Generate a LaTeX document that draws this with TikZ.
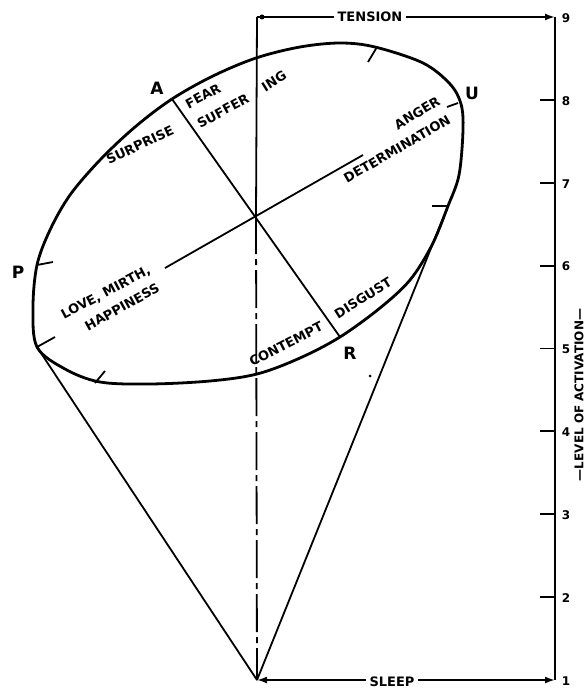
\documentclass[tikz,border=0pt]{standalone}
\usepackage{fontspec}
\setmainfont{DejaVu Sans}
\usetikzlibrary{arrows.meta}

\begin{document}
\begin{tikzpicture}[x=1pt,y=-1pt,>={Latex[length=10pt,width=7pt]},
  emo/.style={font=\bfseries\fontsize{13}{14}\selectfont, inner sep=0pt},
  pole/.style={font=\bfseries\fontsize{17}{18}\selectfont, inner sep=0pt},
  num/.style={font=\bfseries\fontsize{12}{13}\selectfont, inner sep=0pt},
  rim/.style={line width=2.8pt, line join=round},
  thin/.style={line width=1.8pt},
  tickmark/.style={line width=1.8pt}]
\useasboundingbox (0,0) rectangle (586,690);

% main points
\coordinate (top) at (257,17);
\coordinate (c) at (256,216);
\coordinate (apex) at (257,680);
\coordinate (aend) at (172,99);
\coordinate (rend) at (340,337);
\coordinate (pend) at (165,268);
\coordinate (uend) at (363,155);
\coordinate (lt) at (37,347);
\coordinate (rt) at (448,206);
\coordinate (t9) at (555,17);
\coordinate (t1) at (555,680);

% the ellipse
\draw[rim] plot[smooth cycle, tension=0.55] coordinates {
  (256,58) (300,47) (340,43) (375,47) (423,63) (450,84) (461,104)
  (463,130) (459,175) (448,206) (432,245) (410,280) (380,308) (340,337)
  (300,358) (257,374) (210,381) (150,384) (100,382) (65,369) (37,347)
  (33,307) (37,265) (50,230) (70,195) (100,160) (135,127) (172,99) (213,76)};

% axes of the ellipse
\draw[thin] (aend) -- (rend);
\draw[thin] (pend) -- (uend);
\draw[thin] (top) -- (c);
\draw[thin, dash pattern=on 38pt off 5pt on 6pt off 5pt] (c) -- (apex);

% cone
\draw[thin] (lt) -- (apex);
\draw[thin] (rt) -- (apex);

% marks on the rim
\draw[tickmark] (37,265) -- (53,262);
\draw[tickmark] (37,347) -- (55,337);
\draw[tickmark] (95,383) -- (105,371);
\draw[tickmark] (368,62) -- (377,47);
\draw[tickmark] (447,107) -- (458,103);
\draw[tickmark] (432,206) -- (448,206);
\fill (370,376) circle (1.5pt);

% scale
\draw[thin] (t9) -- (t1);
\foreach \n in {2,...,8}
  \draw[thin] (540,{680-(\n-1)*82.875}) -- (555,{680-(\n-1)*82.875});
\foreach \n in {1,...,9}
  \node[num] at (566,{681-(\n-1)*82.875}) {\n};
\node[font=\bfseries\fontsize{12}{13}\selectfont, rotate=90] (level) at (579,395) {—LEVEL OF ACTIVATION—};

% tension and sleep
\fill (262,17) circle (2.5pt);
\draw[thin,->] (top) -- (t9);
\node[emo, fill=white, inner xsep=4pt] (tension) at (370,17) {TENSION};
\draw[thin,<->] (apex) -- (t1);
\node[emo, fill=white, inner xsep=4pt] (sleep) at (392,682) {SLEEP};

% emotions
\node[emo, rotate=25] (surprise) at (140,145) {SURPRISE};
\node[emo, rotate=28] (fear) at (203,96) {FEAR};
\node[emo, rotate=28] (suffer) at (223,111) {SUFFER};
\node[emo, rotate=32] (ing) at (274,81) {ING};
\node[emo, rotate=31] (anger) at (417,113) {ANGER};
\node[emo, rotate=30] (determ) at (397,149) {DETERMINATION};
\node[emo, rotate=28] (love) at (106,293) {LOVE, MIRTH,};
\node[emo, rotate=29] (happy) at (122,307) {HAPPINESS};
\node[emo, rotate=27] (contempt) at (286,344) {CONTEMPT};
\node[emo, rotate=32] (disgust) at (363,298) {DISGUST};

% poles
\node[pole] (A) at (157,88) {A};
\node[pole] (U) at (472,93) {U};
\node[pole] (P) at (18,272) {P};
\node[pole] (R) at (350,353) {R};
\end{tikzpicture}
\end{document}
